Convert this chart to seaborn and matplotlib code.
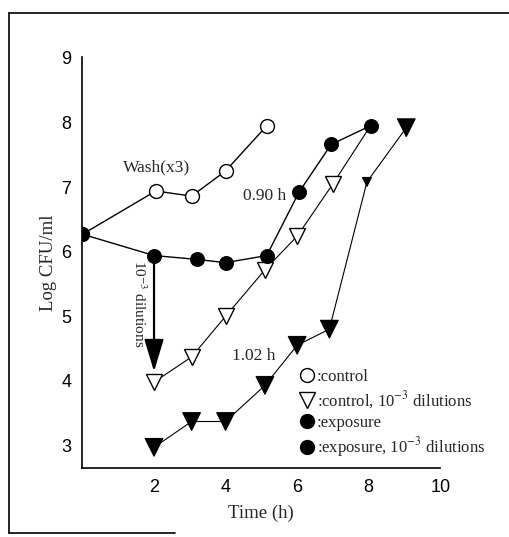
import seaborn as sns
import matplotlib.pyplot as plt
from matplotlib.lines import Line2D

# ---------------------------------------- Data ---------------------------------------- #
ctrl_t = [0, 2.05, 3.05, 4.0, 5.15]
ctrl_y = [6.27, 6.94, 6.86, 7.25, 7.95]

expo_t = [0, 2.0, 3.2, 4.0, 5.15, 6.05, 6.95, 8.05]
expo_y = [6.27, 5.94, 5.88, 5.83, 5.94, 6.92, 7.66, 7.95]

ctrl_dil_t = [2.0, 3.05, 4.0, 5.1, 6.0, 7.0, 8.05]
ctrl_dil_y = [3.98, 4.37, 5.0, 5.72, 6.24, 7.05, 7.95]

expo_dil_t = [2.0, 3.05, 4.0, 5.1, 6.0, 6.9, 7.95, 9.05]
expo_dil_y = [2.97, 3.37, 3.37, 3.93, 4.55, 4.8, 7.08, 7.92]
expo_dil_size = ["big", "big", "big", "big", "big", "big", "small", "big"]

x_ticks = [2, 4, 6, 8, 10]
y_ticks = [3, 4, 5, 6, 7, 8, 9]

serif = "Liberation Serif"
sans = "Liberation Sans"


def main():
    sns.set_style("white")
    plt.rcParams["mathtext.fontset"] = "stix"

    fig = plt.figure(figsize=(5.09, 5.37), dpi=100)
    ax = fig.add_axes([0.162, 0.1285, 0.703, 0.766])

    # dilution curves (thin lines); last open triangle sits under the filled circle
    sns.lineplot(x=ctrl_dil_t, y=ctrl_dil_y, color="black", lw=0.8, marker="v", markersize=11,
                 markevery=list(range(len(ctrl_dil_t) - 1)),
                 markerfacecolor="white", markeredgecolor="black", markeredgewidth=1.0, ax=ax)
    sns.lineplot(x=expo_dil_t, y=expo_dil_y, color="black", lw=0.8, ax=ax)
    sns.scatterplot(x=expo_dil_t, y=expo_dil_y, size=expo_dil_size, sizes={"big": 160, "small": 40},
                    marker="v", color="black", edgecolor="black", legend=False, ax=ax, zorder=3)

    # undiluted curves
    sns.lineplot(x=ctrl_t, y=ctrl_y, color="black", lw=1.0, marker="o", markersize=10,
                 markerfacecolor="white", markeredgecolor="black", markeredgewidth=1.0, ax=ax)
    sns.lineplot(x=expo_t, y=expo_y, color="black", lw=1.0, marker="o", markersize=10,
                 markerfacecolor="black", markeredgecolor="black", ax=ax)

    ax.set_xlim(0, 10)
    ax.set_ylim(2.65, 9.02)
    ax.set_xticks(x_ticks)
    ax.set_yticks(y_ticks)
    ax.tick_params(direction="in", length=5, width=1, colors="black", labelsize=13, pad=8)
    for lab in ax.get_xticklabels() + ax.get_yticklabels():
        lab.set_fontfamily(sans)

    sns.despine(ax=ax)
    for s in ["left", "bottom"]:
        ax.spines[s].set_color("black")
        ax.spines[s].set_linewidth(1.2)

    ax.set_xlabel("Time (h)", fontfamily=serif, fontsize=13.5, labelpad=6)
    ax.set_ylabel("Log CFU/ml", fontfamily=serif, fontsize=13.5, labelpad=3)

    # annotations
    ax.text(2.08, 7.31, "Wash(x3)", fontfamily=serif, fontsize=12.5, ha="center", va="center")
    ax.text(5.1, 6.86, "0.90 h", fontfamily=serif, fontsize=12.5, ha="center", va="center")
    ax.text(4.8, 4.38, "1.02 h", fontfamily=serif, fontsize=12.5, ha="center", va="center")
    ax.text(1.6, 5.2, "10$^{-3}$ dilutions", fontfamily=serif, fontsize=11, ha="center", va="center",
            rotation=270)
    ax.annotate("", xy=(2.0, 4.1), xytext=(2.0, 5.94),
                arrowprops=dict(arrowstyle="-|>,head_length=2.0,head_width=0.6", color="black", lw=1.6))

    handles = [
        Line2D([], [], ls="none", marker="o", markersize=10, markerfacecolor="white", markeredgecolor="black"),
        Line2D([], [], ls="none", marker="v", markersize=11, markerfacecolor="white", markeredgecolor="black"),
        Line2D([], [], ls="none", marker="o", markersize=10, markerfacecolor="black", markeredgecolor="black"),
        Line2D([], [], ls="none", marker="o", markersize=10, markerfacecolor="black", markeredgecolor="black"),
    ]
    labels = [":control", ":control, 10$^{-3}$ dilutions", ":exposure", ":exposure, 10$^{-3}$ dilutions"]
    ax.legend(handles, labels, loc="upper left", bbox_to_anchor=(0.61, 0.24), frameon=False,
              handlelength=0.8, handletextpad=0.15, borderpad=0, borderaxespad=0,
              labelspacing=0.25, prop={"family": serif, "size": 12})

    # scanned frame around the figure
    fig.add_artist(Line2D([9 / 509, 1.0], [1 - 13 / 537, 1 - 13 / 537], color="black", lw=1.2))
    fig.add_artist(Line2D([9 / 509, 9 / 509], [1 - 13 / 537, 1 - 533 / 537], color="black", lw=1.2))
    fig.add_artist(Line2D([9 / 509, 175 / 509], [1 - 533 / 537, 1 - 533 / 537], color="black", lw=1.2))

    plt.savefig("out.png", dpi=100)


main()
